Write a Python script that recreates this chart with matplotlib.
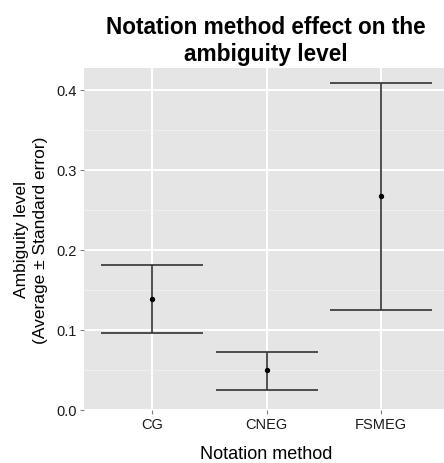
import matplotlib
matplotlib.use("Agg")
import matplotlib.pyplot as plt
from matplotlib.ticker import MultipleLocator, FormatStrFormatter

plt.rcParams["font.family"] = ["Liberation Sans", "DejaVu Sans"]

methods = ["CG", "CNEG", "FSMEG"]
means = [0.138, 0.050, 0.267]
upper = [0.181, 0.072, 0.408]
lower = [0.096, 0.025, 0.125]

fig = plt.figure(figsize=(4.44, 4.64), dpi=100)
# panel in pixels: left 84, right ~449 (cut by image edge), top 69, bottom 411
ax = fig.add_axes([84 / 444, (464 - 411) / 464, (449 - 84) / 444, (411 - 69) / 464])

ax.set_facecolor("#E5E5E5")
for s in ax.spines.values():
    s.set_visible(False)

ax.set_xlim(0.4, 3.6)
ax.set_ylim(0.0, 0.427)
ax.yaxis.set_major_locator(MultipleLocator(0.1))
ax.yaxis.set_minor_locator(MultipleLocator(0.05))
ax.grid(True, which="major", color="white", linewidth=1.4)
ax.grid(True, which="minor", axis="y", color="#F2F2F2", linewidth=0.6)
ax.set_axisbelow(True)

x = list(range(1, len(methods) + 1))
ax.set_xticks(x)
ax.set_xticklabels(methods)
ax.tick_params(axis="both", which="major", length=3, color="#7F7F7F",
               labelsize=10.5, labelcolor="#1A1A1A", width=0.8, pad=2)
ax.tick_params(axis="y", which="minor", length=0)
ax.yaxis.set_major_formatter(FormatStrFormatter("%.1f"))

yerr = [[m - lo for m, lo in zip(means, lower)], [up - m for m, up in zip(means, upper)]]
# cap half-width ~51 px -> points
ax.errorbar(x, means, yerr=yerr, fmt="none", ecolor="#333333", elinewidth=1.2,
            capsize=51 * 0.72, capthick=1.2)
ax.scatter(x, means, s=8, color="black", zorder=3)

ax.set_xlabel("Notation method", fontsize=13, labelpad=10)
ax.set_ylabel("Ambiguity level\n(Average \u00b1 Standard error)", fontsize=12.5,
              labelpad=6, linespacing=1.35)

fig.text(266 / 444, 1 - 41 / 464, "Notation method effect on the\nambiguity level",
         ha="center", va="center", fontsize=16.3, fontweight="bold", linespacing=1.2)

fig.savefig("out.png", dpi=100)
